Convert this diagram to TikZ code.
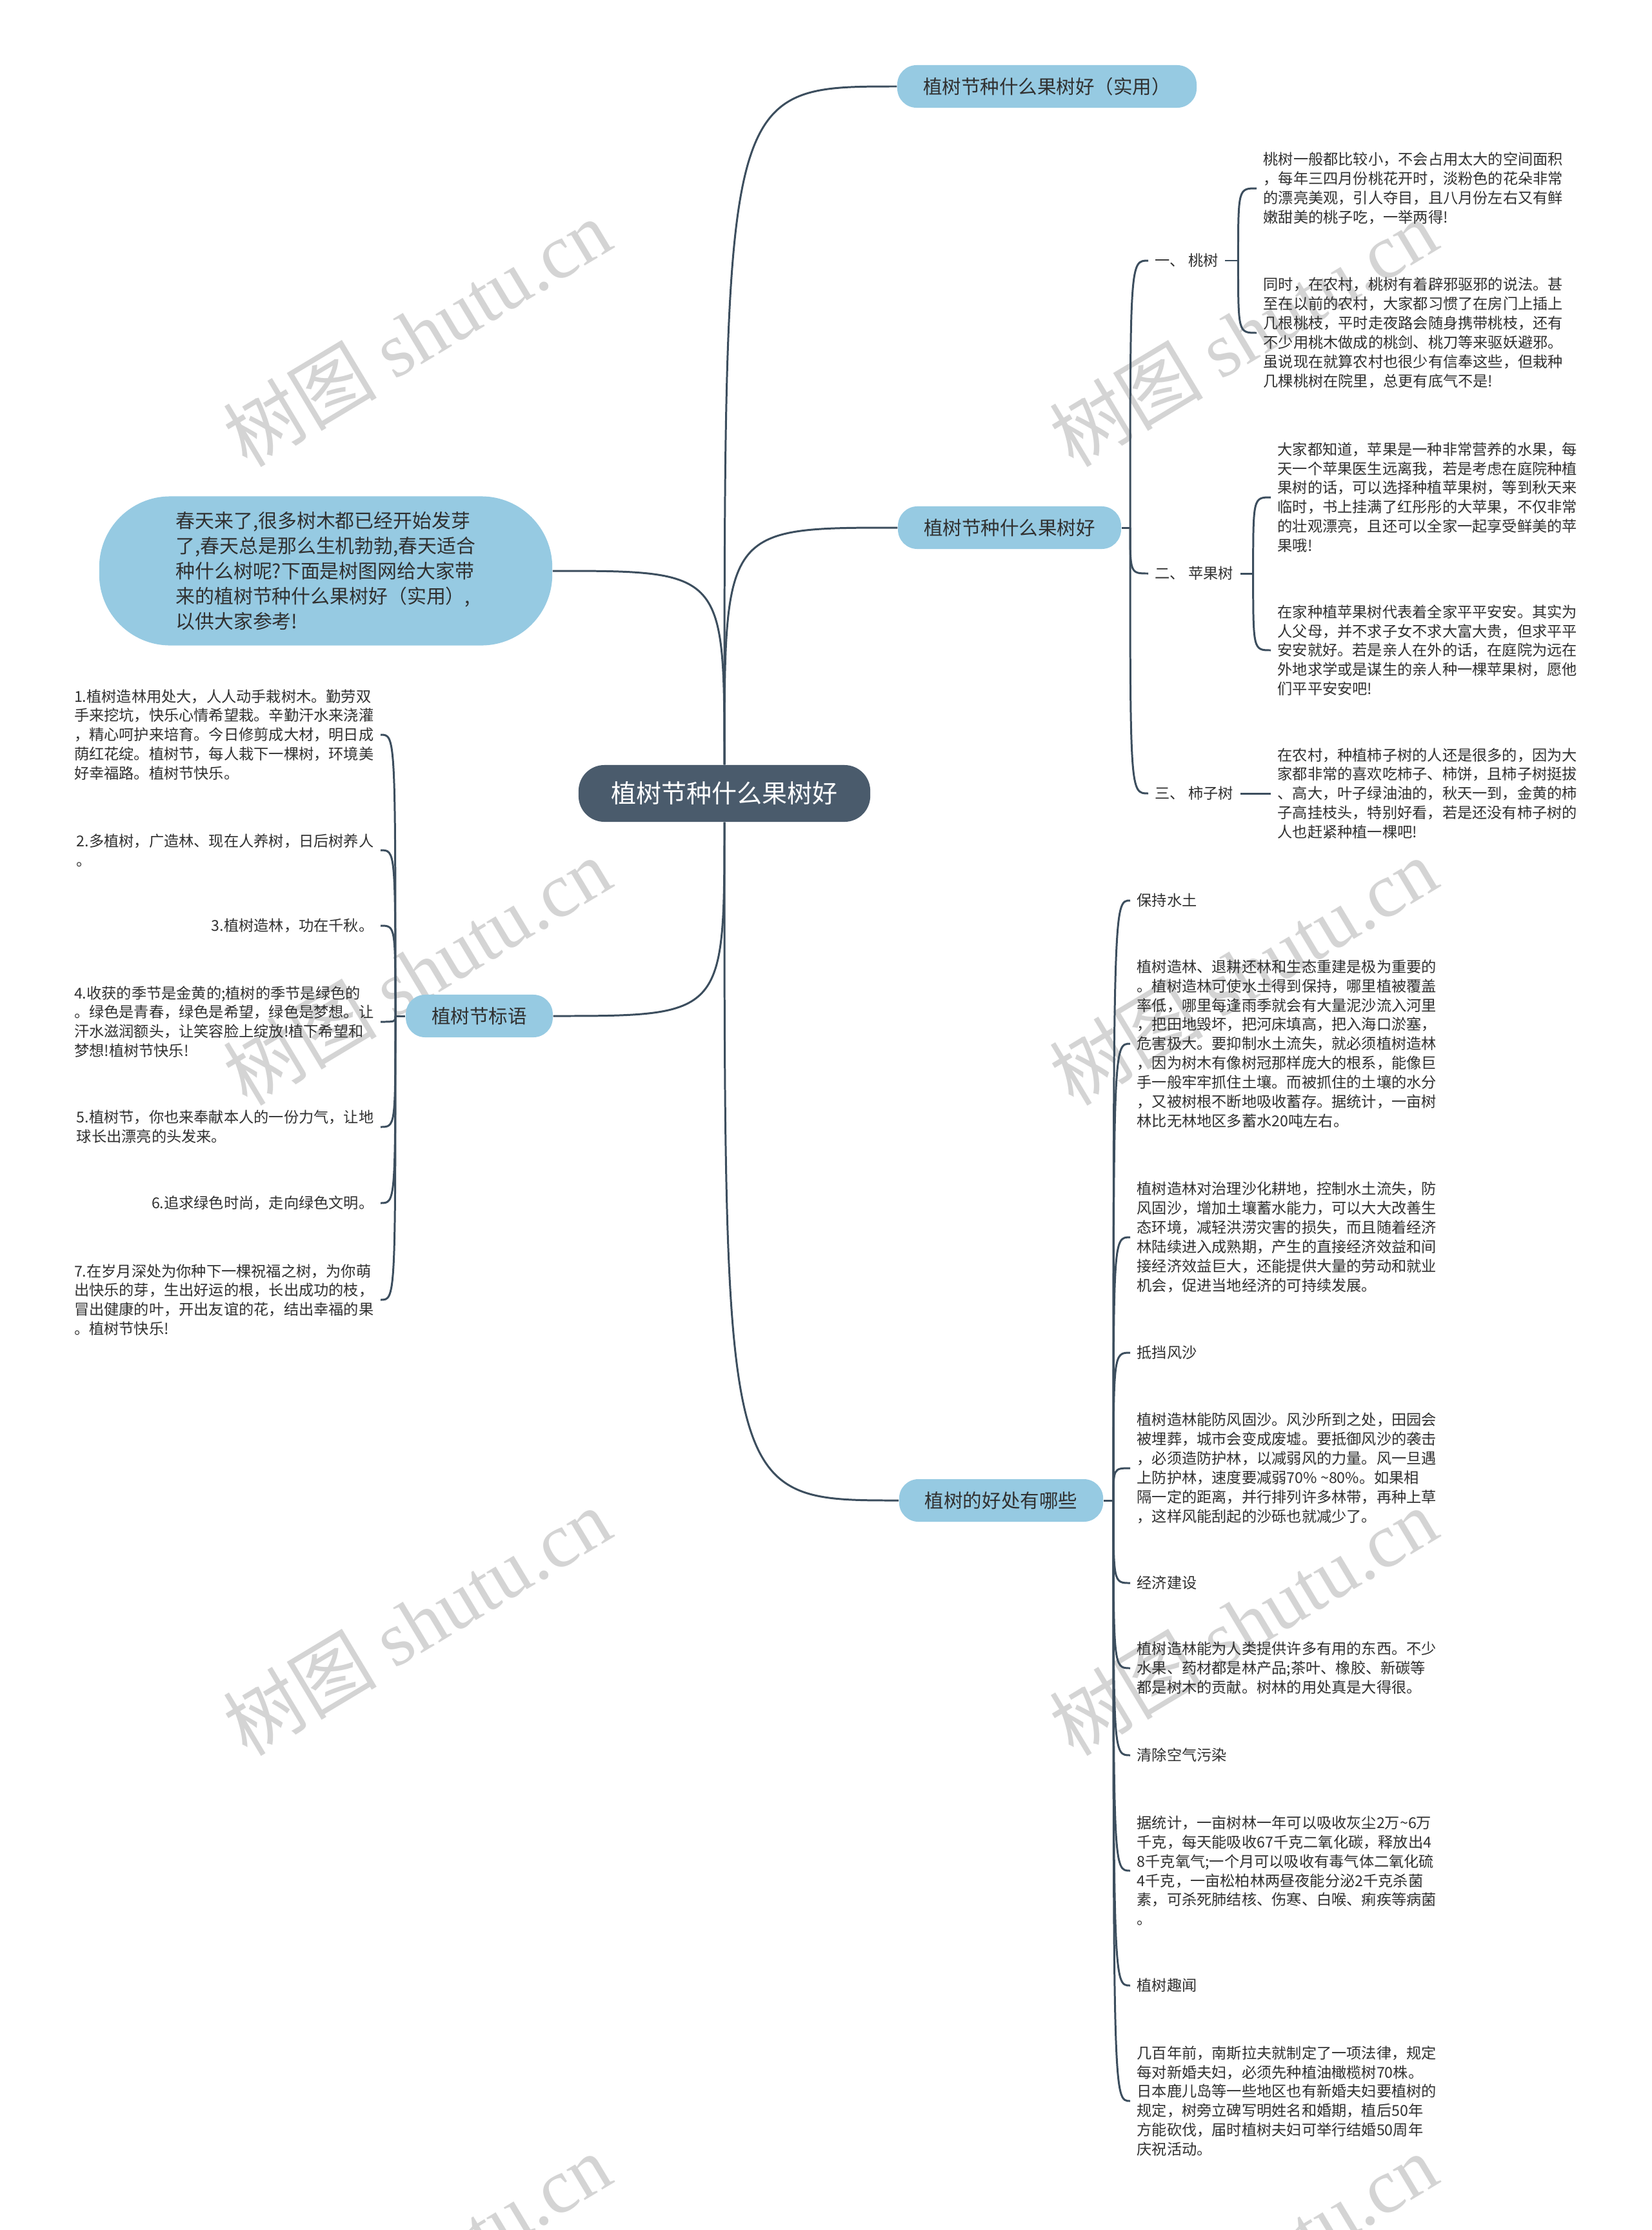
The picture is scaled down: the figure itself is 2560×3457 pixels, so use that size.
\documentclass[tikz,border=0pt]{standalone}
\usepackage{fontspec}
\setmainfont{Noto Sans CJK SC}
\newfontfamily\wmfont{Liberation Serif}
\definecolor{myslate}{RGB}{74, 91, 108}
\definecolor{myline}{RGB}{60, 78, 94}
\definecolor{mysky}{RGB}{150, 202, 226}
\definecolor{mytext}{RGB}{48, 48, 48}
\definecolor{mygrey}{RGB}{212, 212, 212}

\begin{document}
\begin{tikzpicture}[x=0.01cm, y=-0.01cm]
                \fill[white] (0,0) rectangle (2560,3457);
                \useasboundingbox (0,0) rectangle (2560,3457);

                \tikzstyle{stamp}=[text=mygrey, rotate=31, font=\fontsize{34}{38}\selectfont]
                \node[stamp] (W1) at (646,516) {树图 {\wmfont shutu.cn}};
                \node[stamp] (W2) at (1927,516) {树图 {\wmfont shutu.cn}};
                \node[stamp] (W3) at (646,1506) {树图 {\wmfont shutu.cn}};
                \node[stamp] (W4) at (1927,1506) {树图 {\wmfont shutu.cn}};
                \node[stamp] (W5) at (646,2514) {树图 {\wmfont shutu.cn}};
                \node[stamp] (W6) at (1927,2514) {树图 {\wmfont shutu.cn}};
                \node[stamp] (W7) at (646,3515) {树图 {\wmfont shutu.cn}};
                \node[stamp] (W8) at (1927,3515) {树图 {\wmfont shutu.cn}};

                \tikzstyle{hub}=[rectangle, rounded corners=0.4cm, fill=myslate, text=white, minimum width=4.52cm, minimum height=0.88cm, font=\fontsize{11.1}{13}\selectfont]
                \tikzstyle{topic}=[rectangle, rounded corners=0.3cm, fill=mysky, text=mytext, minimum height=0.66cm, inner xsep=0.4cm, font=\fontsize{8.4}{10}\selectfont]
                \tikzstyle{leaf}=[align=left, inner xsep=0.1cm, inner ysep=0.05cm, text=mytext, font=\fontsize{6.6}{8.5}\selectfont]

                \node[hub] (R) at (1123,1230) {植树节种什么果树好};
                \node[topic] (B1) at (1623,134) {植树节种什么果树好（实用）};
                \node[topic] (B2) at (1565,818) {植树节种什么果树好};
                \node[topic] (B3) at (1552,2326) {植树的好处有哪些};
                \node[topic, rounded corners=1.1cm, minimum width=7.02cm, minimum height=2.31cm, align=left, font=\fontsize{8.5}{11.1}\selectfont] (L1) at (505,885) {春天来了,很多树木都已经开始发芽\\了,春天总是那么生机勃勃,春天适合\\种什么树呢?下面是树图网给大家带\\来的植树节种什么果树好（实用）,\\以供大家参考!};
                \node[topic] (L2) at (743,1575) {植树节标语};

                \node[leaf, anchor=west] (K1) at (1780,404) {一、 桃树};
                \node[leaf, anchor=west] (K2) at (1780,889) {二、 苹果树};
                \node[leaf, anchor=west] (K3) at (1780,1230) {三、 柿子树};
                \node[leaf, anchor=west] (T1a) at (1948,292) {桃树一般都比较小，不会占用太大的空间面积\\，每年三四月份桃花开时，淡粉色的花朵非常\\的漂亮美观，引人夺目，且八月份左右又有鲜\\嫩甜美的桃子吃，一举两得!};
                \node[leaf, anchor=west] (T1b) at (1948,516) {同时，在农村，桃树有着辟邪驱邪的说法。甚\\至在以前的农村，大家都习惯了在房门上插上\\几根桃枝，平时走夜路会随身携带桃枝，还有\\不少用桃木做成的桃剑、桃刀等来驱妖避邪。\\虽说现在就算农村也很少有信奉这些，但栽种\\几棵桃树在院里，总更有底气不是!};
                \node[leaf, anchor=west] (T2a) at (1970,771) {大家都知道，苹果是一种非常营养的水果，每\\天一个苹果医生远离我，若是考虑在庭院种植\\果树的话，可以选择种植苹果树，等到秋天来\\临时，书上挂满了红彤彤的大苹果，不仅非常\\的壮观漂亮，且还可以全家一起享受鲜美的苹\\果哦!};
                \node[leaf, anchor=west] (T2b) at (1970,1008) {在家种植苹果树代表着全家平平安安。其实为\\人父母，并不求子女不求大富大贵，但求平平\\安安就好。若是亲人在外的话，在庭院为远在\\外地求学或是谋生的亲人种一棵苹果树，愿他\\们平平安安吧!};
                \node[leaf, anchor=west] (T3) at (1970,1230) {在农村，种植柿子树的人还是很多的，因为大\\家都非常的喜欢吃柿子、柿饼，且柿子树挺拔\\、高大，叶子绿油油的，秋天一到，金黄的柿\\子高挂枝头，特别好看，若是还没有柿子树的\\人也赶紧种植一棵吧!};

                \node[leaf, anchor=west] (H1) at (1752,1396) {保持水土};
                \node[leaf, anchor=west] (D1) at (1752,1618) {植树造林、退耕还林和生态重建是极为重要的\\。植树造林可使水土得到保持，哪里植被覆盖\\率低，哪里每逢雨季就会有大量泥沙流入河里\\，把田地毁坏，把河床填高，把入海口淤塞，\\危害极大。要抑制水土流失，就必须植树造林\\，因为树木有像树冠那样庞大的根系，能像巨\\手一般牢牢抓住土壤。而被抓住的土壤的水分\\，又被树根不断地吸收蓄存。据统计，一亩树\\林比无林地区多蓄水20吨左右。};
                \node[leaf, anchor=west] (D2) at (1752,1918) {植树造林对治理沙化耕地，控制水土流失，防\\风固沙，增加土壤蓄水能力，可以大大改善生\\态环境，减轻洪涝灾害的损失，而且随着经济\\林陆续进入成熟期，产生的直接经济效益和间\\接经济效益巨大，还能提供大量的劳动和就业\\机会，促进当地经济的可持续发展。};
                \node[leaf, anchor=west] (H2) at (1752,2097) {抵挡风沙};
                \node[leaf, anchor=west] (D3) at (1752,2276) {植树造林能防风固沙。风沙所到之处，田园会\\被埋葬，城市会变成废墟。要抵御风沙的袭击\\，必须造防护林，以减弱风的力量。风一旦遇\\上防护林，速度要减弱70\% \textasciitilde80\%。如果相\\隔一定的距离，并行排列许多林带，再种上草\\，这样风能刮起的沙砾也就减少了。};
                \node[leaf, anchor=west] (H3) at (1752,2454) {经济建设};
                \node[leaf, anchor=west] (D4) at (1752,2586) {植树造林能为人类提供许多有用的东西。不少\\水果、药材都是林产品;茶叶、橡胶、新碳等\\都是树木的贡献。树林的用处真是大得很。};
                \node[leaf, anchor=west] (H4) at (1752,2721) {清除空气污染};
                \node[leaf, anchor=west] (D5) at (1752,2900) {据统计，一亩树林一年可以吸收灰尘2万\textasciitilde6万\\千克，每天能吸收67千克二氧化碳，释放出4\\8千克氧气;一个月可以吸收有毒气体二氧化硫\\4千克，一亩松柏林两昼夜能分泌2千克杀菌\\素，可杀死肺结核、伤寒、白喉、痢疾等病菌\\。};
                \node[leaf, anchor=west] (H5) at (1752,3078) {植树趣闻};
                \node[leaf, anchor=west] (D6) at (1752,3257) {几百年前，南斯拉夫就制定了一项法律，规定\\每对新婚夫妇，必须先种植油橄榄树70株。\\日本鹿儿岛等一些地区也有新婚夫妇要植树的\\规定，树旁立碑写明姓名和婚期，植后50年\\方能砍伐，届时植树夫妇可举行结婚50周年\\庆祝活动。};

                \node[leaf, anchor=east] (E1) at (590,1139) {1.植树造林用处大，人人动手栽树木。勤劳双\\手来挖坑，快乐心情希望栽。辛勤汗水来浇灌\\，精心呵护来培育。今日修剪成大材，明日成\\荫红花绽。植树节，每人栽下一棵树，环境美\\好幸福路。植树节快乐。};
                \node[leaf, anchor=east] (E2) at (590,1318) {2.多植树，广造林、现在人养树，日后树养人\\。};
                \node[leaf, anchor=east] (E3) at (590,1435) {3.植树造林，功在千秋。};
                \node[leaf, anchor=east] (E4) at (590,1584) {4.收获的季节是金黄的;植树的季节是绿色的\\。绿色是青春，绿色是希望，绿色是梦想。让\\汗水滋润额头，让笑容脸上绽放!植下希望和\\梦想!植树节快乐!};
                \node[leaf, anchor=east] (E5) at (590,1747) {5.植树节，你也来奉献本人的一份力气，让地\\球长出漂亮的头发来。};
                \node[leaf, anchor=east] (E6) at (590,1865) {6.追求绿色时尚，走向绿色文明。};
                \node[leaf, anchor=east] (E7) at (590,2015) {7.在岁月深处为你种下一棵祝福之树，为你萌\\出快乐的芽，生出好运的根，长出成功的枝，\\冒出健康的叶，开出友谊的花，结出幸福的果\\。植树节快乐!};

                \tikzstyle{link}=[draw=myline, line width=0.85pt]

                \coordinate (P1) at (1752,818);
                \coordinate (P4) at (1726,2326);
                \coordinate (P5) at (613,1575);
                \path (K1.east) ++(20,0) coordinate (P2);
                \path (K2.east) ++(20,0) coordinate (P3);

                \draw[link] (R.north) .. controls (R.north |- B1.west) .. (B1.west);
                \draw[link] (R.north) .. controls (R.north |- B2.west) .. (B2.west);
                \draw[link] (R.south) .. controls (R.south |- B3.west) .. (B3.west);
                \draw[link] (R.north) .. controls (R.north |- L1.east) .. (L1.east);
                \draw[link] (R.south) .. controls (R.south |- L2.east) .. (L2.east);

                \draw[link] (B2.east) -- (P1);
                \draw[link] (P1) .. controls (P1 |- K1.west) .. (K1.west);
                \draw[link] (P1) .. controls (P1 |- K2.west) .. (K2.west);
                \draw[link] (P1) .. controls (P1 |- K3.west) .. (K3.west);
                \draw[link] (K1.east) -- (P2);
                \draw[link] (P2) .. controls (P2 |- T1a.west) .. (T1a.west);
                \draw[link] (P2) .. controls (P2 |- T1b.west) .. (T1b.west);
                \draw[link] (K2.east) -- (P3);
                \draw[link] (P3) .. controls (P3 |- T2a.west) .. (T2a.west);
                \draw[link] (P3) .. controls (P3 |- T2b.west) .. (T2b.west);
                \draw[link] (K3.east) -- (T3.west);

                \draw[link] (B3.east) -- (P4);
                \draw[link] (P4) .. controls (P4 |- H1.west) .. (H1.west);
                \draw[link] (P4) .. controls (P4 |- D1.west) .. (D1.west);
                \draw[link] (P4) .. controls (P4 |- D2.west) .. (D2.west);
                \draw[link] (P4) .. controls (P4 |- H2.west) .. (H2.west);
                \draw[link] (P4) .. controls (P4 |- D3.west) .. (D3.west);
                \draw[link] (P4) .. controls (P4 |- H3.west) .. (H3.west);
                \draw[link] (P4) .. controls (P4 |- D4.west) .. (D4.west);
                \draw[link] (P4) .. controls (P4 |- H4.west) .. (H4.west);
                \draw[link] (P4) .. controls (P4 |- D5.west) .. (D5.west);
                \draw[link] (P4) .. controls (P4 |- H5.west) .. (H5.west);
                \draw[link] (P4) .. controls (P4 |- D6.west) .. (D6.west);

                \draw[link] (L2.west) -- (P5);
                \draw[link] (P5) .. controls (P5 |- E1.east) .. (E1.east);
                \draw[link] (P5) .. controls (P5 |- E2.east) .. (E2.east);
                \draw[link] (P5) .. controls (P5 |- E3.east) .. (E3.east);
                \draw[link] (P5) .. controls (P5 |- E4.east) .. (E4.east);
                \draw[link] (P5) .. controls (P5 |- E5.east) .. (E5.east);
                \draw[link] (P5) .. controls (P5 |- E6.east) .. (E6.east);
                \draw[link] (P5) .. controls (P5 |- E7.east) .. (E7.east);
            \end{tikzpicture}
\end{document}
